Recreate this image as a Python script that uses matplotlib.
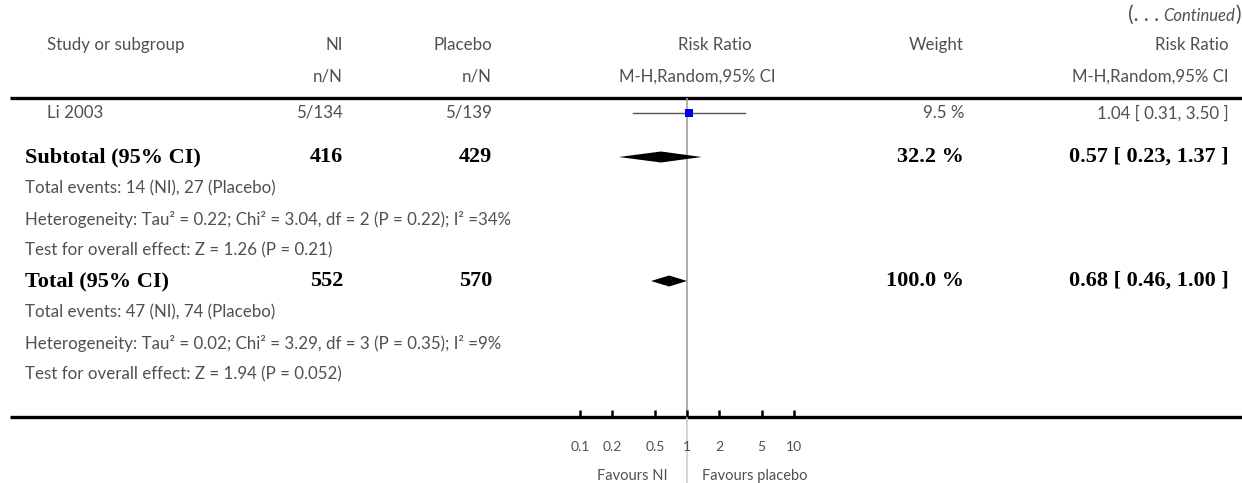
import numpy as np
import matplotlib
matplotlib.use('Agg')
import matplotlib.pyplot as plt
from matplotlib.transforms import blended_transform_factory

plt.rcParams['font.family'] = ['Lato', 'DejaVu Sans']

# 研究数据（续表）
study_names = ['Li 2003']
ni_events = [5]
ni_totals = [134]
pl_events = [5]
pl_totals = [139]
study_rr = [1.04]
study_lo = [0.31]
study_hi = [3.50]
study_weight = [9.5]

# 合并结果：亚组合计、总计
pooled_names = ['Subtotal (95% CI)', 'Total (95% CI)']
pooled_ni_n = [416, 552]
pooled_pl_n = [429, 570]
pooled_rr = [0.57, 0.68]
pooled_lo = [0.23, 0.46]
pooled_hi = [1.37, 1.00]
pooled_weight = [32.2, 100.0]
pooled_notes = [
    ['Total events: 14 (NI), 27 (Placebo)',
     'Heterogeneity: Tau² = 0.22; Chi² = 3.04, df = 2 (P = 0.22); I² =34%',
     'Test for overall effect: Z = 1.26 (P = 0.21)'],
    ['Total events: 47 (NI), 74 (Placebo)',
     'Heterogeneity: Tau² = 0.02; Chi² = 3.29, df = 3 (P = 0.35); I² =9%',
     'Test for overall effect: Z = 1.94 (P = 0.052)'],
]

axis_ticks = [0.1, 0.2, 0.5, 1, 2, 5, 10]
axis_ticklabels = ['0.1', '0.2', '0.5', '1', '2', '5', '10']

W, H = 1242, 483
fig = plt.figure(figsize=(W / 100, H / 100), dpi=100)

# 底层坐标系：按像素排版文字和横线
ax = fig.add_axes([0, 0, 1, 1])
ax.set_xlim(0, W)
ax.set_ylim(H, 0)
ax.axis('off')

grey = '#505050'
fs = 12.2
light = dict(color=grey, fontsize=fs, va='center')
bold = dict(color='black', fontsize=16, fontweight='bold',
            family='Liberation Serif', va='center')

x_left, x_left2 = 47, 25
x_ni, x_pl = 343, 492
x_weight, x_rr = 964, 1229

# 续表标记：从右往左依次排
renderer = fig.canvas.get_renderer()
inv = ax.transData.inverted()
t = ax.text(1241, 15, ')', ha='right', **{**light, 'fontsize': 15})
x_edge = inv.transform(t.get_window_extent(renderer))[0][0]
t = ax.text(x_edge, 16, 'Continued', ha='right', style='italic', **{**light, 'fontsize': 12})
x_edge = inv.transform(t.get_window_extent(renderer))[0][0]
ax.text(x_edge - 5, 15, '(. . .', ha='right', **{**light, 'fontsize': 15})

# 表头
y_h1, y_h2 = 45, 77
ax.text(x_left, y_h1, 'Study or subgroup', ha='left', **light)
ax.text(x_ni, y_h1, 'NI', ha='right', **light)
ax.text(x_pl, y_h1, 'Placebo', ha='right', **light)
ax.text(715, y_h1, 'Risk Ratio', ha='center', **light)
ax.text(x_weight, y_h1, 'Weight', ha='right', **light)
ax.text(x_rr, y_h1, 'Risk Ratio', ha='right', **light)
ax.text(x_ni, y_h2, 'n/N', ha='right', **light)
ax.text(x_pl, y_h2, 'n/N', ha='right', **light)
ax.text(697, y_h2, 'M-H,Random,95% CI', ha='center', **light)
ax.text(x_rr, y_h2, 'M-H,Random,95% CI', ha='right', **light)

y_top, y_axis = 98, 417
ax.plot([10, W], [y_top, y_top], color='black', lw=2.4, solid_capstyle='butt')
ax.plot([10, W], [y_axis, y_axis], color='black', lw=2.4, solid_capstyle='butt')

# 各行位置
study_y = [113]
pooled_y = [157, 281]
note_step = 31

for i, name in enumerate(study_names):
    y = study_y[i]
    ax.text(x_left, y, name, ha='left', **light)
    ax.text(x_ni, y, f'{ni_events[i]}/{ni_totals[i]}', ha='right', **light)
    ax.text(x_pl, y, f'{pl_events[i]}/{pl_totals[i]}', ha='right', **light)
    ax.text(x_weight, y, f'{study_weight[i]:.1f} %', ha='right', **light)
    ax.text(x_rr, y, f'{study_rr[i]:.2f} [ {study_lo[i]:.2f}, {study_hi[i]:.2f} ]',
            ha='right', **light)

for i, name in enumerate(pooled_names):
    y = pooled_y[i]
    ax.text(x_left2, y, name, ha='left', **bold)
    ax.text(x_ni, y, f'{pooled_ni_n[i]}', ha='right', **bold)
    ax.text(x_pl, y, f'{pooled_pl_n[i]}', ha='right', **bold)
    ax.text(x_weight, y, f'{pooled_weight[i]:.1f} %', ha='right', **bold)
    ax.text(x_rr, y, f'{pooled_rr[i]:.2f} [ {pooled_lo[i]:.2f}, {pooled_hi[i]:.2f} ]',
            ha='right', **bold)
    for k, note in enumerate(pooled_notes[i]):
        ax.text(x_left2, y + note_step * (k + 1), note, ha='left', **light)

# 森林图区域（对数坐标）
x0, x1 = 580.3, 793.7
fax = fig.add_axes([x0 / W, (H - y_axis) / H, (x1 - x0) / W, (y_axis - y_top) / H])
fax.set_xscale('log')
fax.set_xlim(0.1, 10)
fax.set_ylim(y_axis, y_top)
fax.patch.set_alpha(0)
for s in fax.spines.values():
    s.set_visible(False)
fax.set_yticks([])
fax.set_xticks(axis_ticks)
fax.set_xticklabels(axis_ticklabels)
fax.minorticks_off()
fax.tick_params(axis='x', direction='in', length=5, width=1.8, color='black',
                pad=17, labelsize=10, labelcolor=grey)

# 无效线
fax.axvline(1, color='#a0a0a0', lw=1.2, zorder=1)
tr = blended_transform_factory(fax.transData, fax.transAxes)
fax.plot([1, 1], [0, -66 / (y_axis - y_top)], transform=tr, color='#d0d0d0',
         lw=1.2, clip_on=False, zorder=1)

for i in range(len(study_names)):
    y = study_y[i]
    fax.plot([study_lo[i], study_hi[i]], [y, y], color='#555555', lw=1.0, zorder=2)
    fax.plot([study_rr[i]], [y], marker='s', markersize=5.2, color='#0000ee',
             markeredgewidth=0, zorder=3)

half_h = 5.5
for i in range(len(pooled_names)):
    y = pooled_y[i]
    fax.fill([pooled_lo[i], pooled_rr[i], pooled_hi[i], pooled_rr[i]],
             [y, y - half_h, y, y + half_h], color='black', lw=0, zorder=3)

# 坐标轴下方说明
ax.text(668, 476, 'Favours NI', ha='right', **{**light, 'fontsize': 10.5})
ax.text(702, 476, 'Favours placebo', ha='left', **{**light, 'fontsize': 10.5})

fig.savefig('out.png', dpi=100)
